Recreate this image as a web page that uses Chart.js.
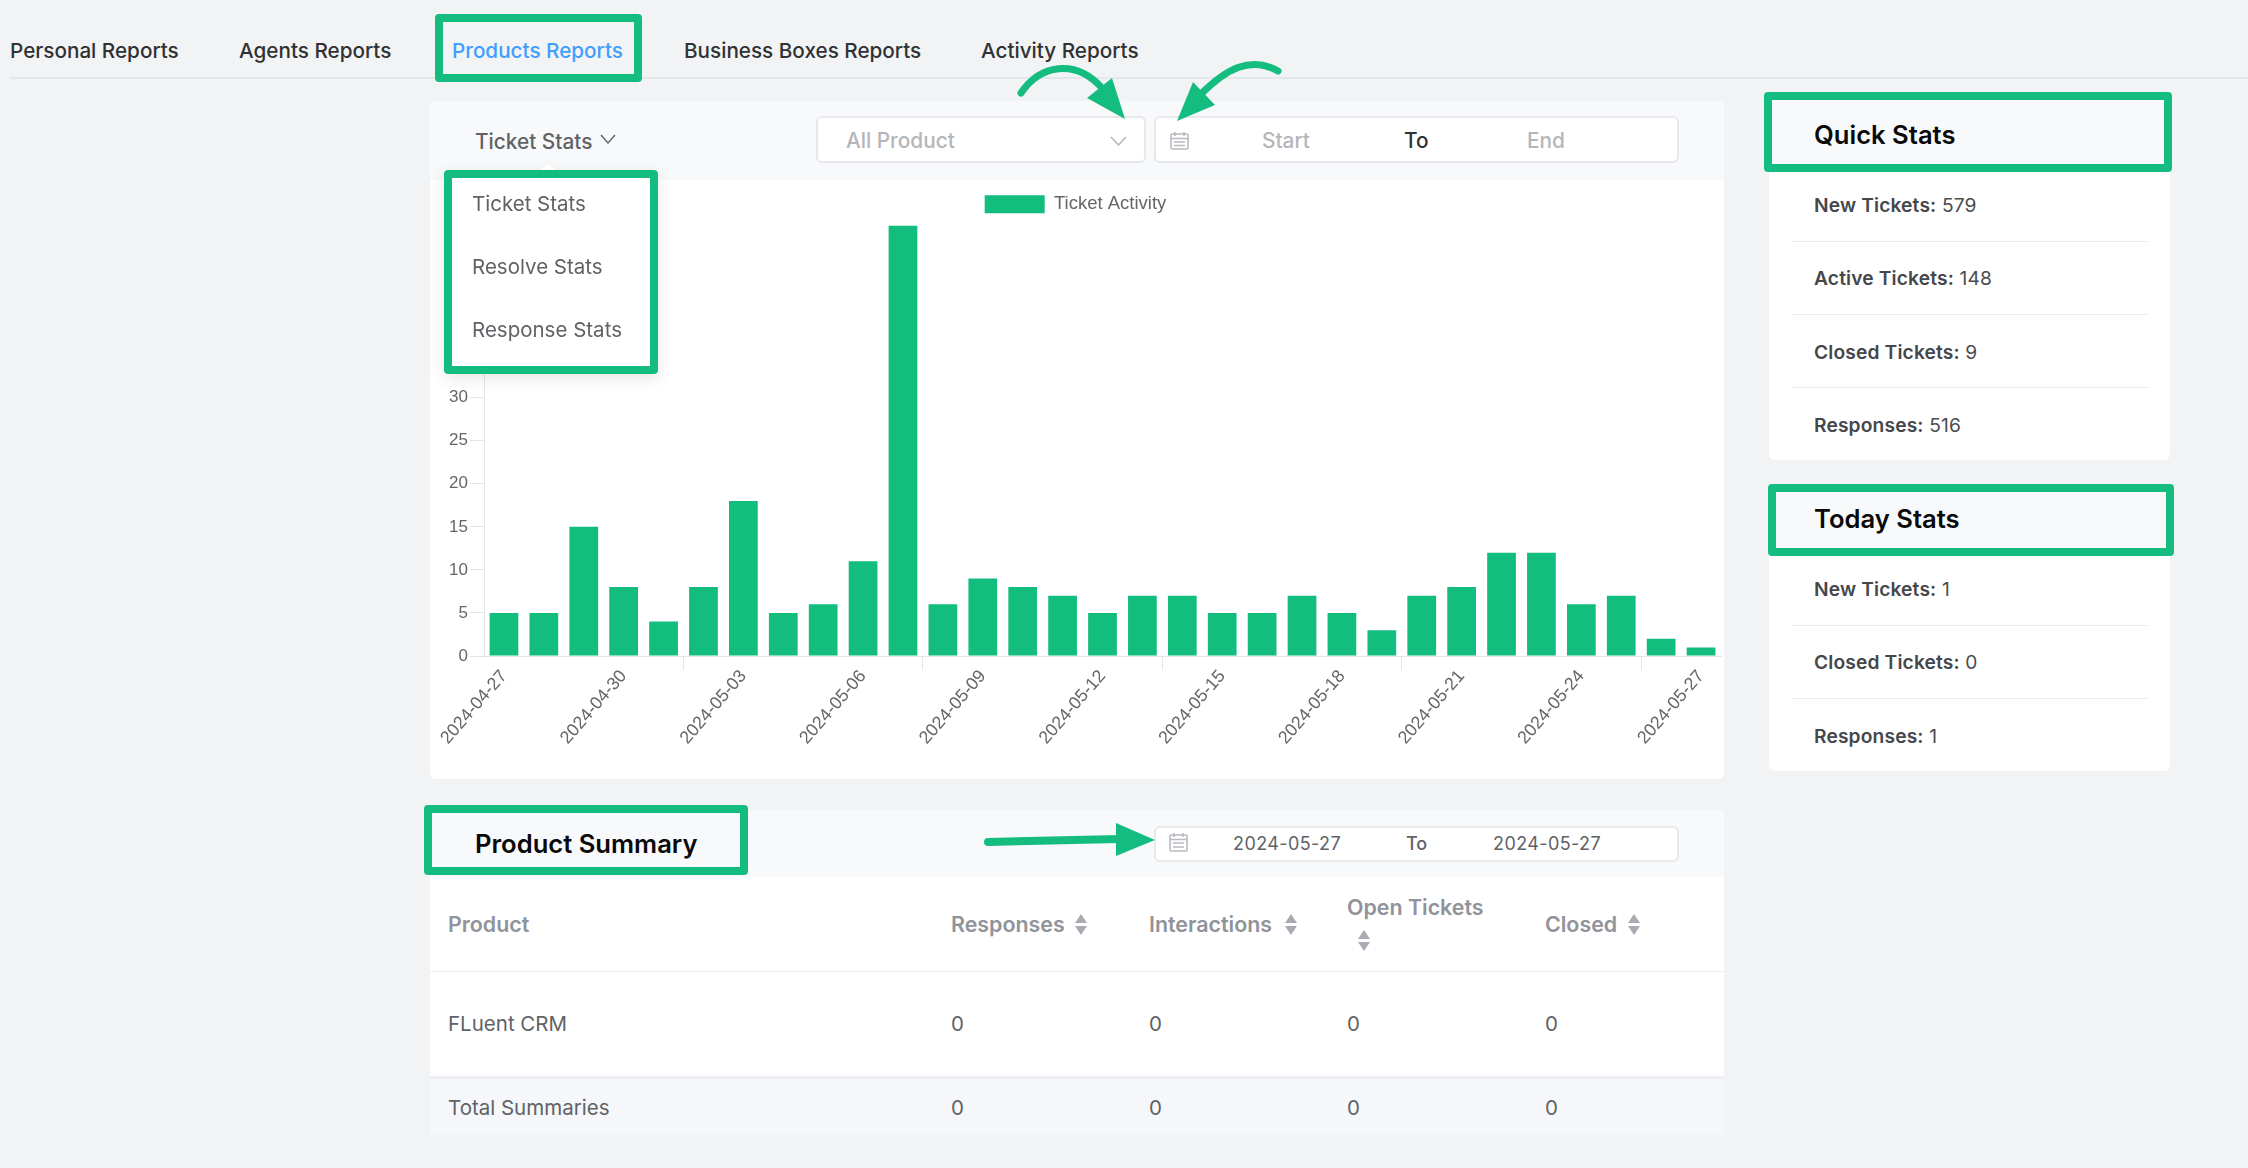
<!DOCTYPE html>
<html><head><meta charset="utf-8">
<script src="https://cdn.jsdelivr.net/npm/chart.js@4"></script>
<style>
html,body{margin:0;padding:0;width:2248px;height:1168px;overflow:hidden;background:#f1f3f5;font-family:Inter,sans-serif;color:#606266}
.a{position:absolute;white-space:nowrap}
.t{transform:translateY(-50%)}
.card{position:absolute;background:#fff;border-radius:6px}
.head{position:absolute;background:#f8f9fb}
.gb{position:absolute;border:8px solid #14bd7f;border-radius:4px;box-sizing:border-box}
.inp{position:absolute;background:#fff;border:2px solid #e6e8ec;border-radius:6px;box-sizing:border-box}
.tab{font-size:20.7px;font-weight:500;color:#303133;top:49.5px}
.pop{font-size:20.5px;color:#606266}
.st{font-size:19.2px;color:#4a4c50;font-weight:400;letter-spacing:.15px}
.st b{font-weight:600;color:#45474b}
.dv{position:absolute;height:1px;background:#e9ebee;left:1792px;width:356px}
.h2{font-size:25.6px;font-weight:600;color:#0a0a0a}
.th{font-size:21.4px;font-weight:600;color:#909399}
.td{font-size:20.5px;color:#606266}
svg{position:absolute;left:0;top:0;overflow:visible}
canvas{position:absolute;left:430px;top:180px}
</style></head><body>

<div class="a" style="left:10px;top:77px;width:2238px;height:2px;background:#e4e7ea"></div>
<div class="a t tab" style="left:10px">Personal Reports</div>
<div class="a t tab" style="left:239px">Agents Reports</div>
<div class="a t tab" style="left:452px;color:#409eff">Products Reports</div>
<div class="a t tab" style="left:684px">Business Boxes Reports</div>
<div class="a t tab" style="left:981px">Activity Reports</div>
<div class="gb" style="left:435px;top:14px;width:207px;height:68px"></div>

<!-- chart card -->
<div class="card" style="left:430px;top:101px;width:1294px;height:678px"></div>
<div class="head" style="left:430px;top:101px;width:1294px;height:79px;border-radius:6px 6px 0 0"></div>
<canvas id="c" width="1294" height="598"></canvas>
<div class="a t" style="left:475px;top:141px;font-size:20.8px;font-weight:500;color:#606266">Ticket Stats</div>
<div class="inp" style="left:816px;top:116px;width:330px;height:47px"></div>
<div class="a t" style="left:846px;top:140px;font-size:20.8px;font-weight:500;color:#b4b6ba">All Product</div>
<div class="inp" style="left:1154px;top:116px;width:525px;height:47px"></div>
<div class="a t" style="left:1262px;top:140px;font-size:20.8px;font-weight:500;color:#b4b6ba">Start</div>
<div class="a t" style="left:1404px;top:139.5px;font-size:20.8px;font-weight:500;color:#303133">To</div>
<div class="a t" style="left:1527px;top:140px;font-size:20.8px;font-weight:500;color:#b4b6ba">End</div>

<!-- popup -->
<div class="a" style="left:444px;top:170px;width:214px;height:204px;background:#fff;box-shadow:0 4px 16px rgba(0,0,0,.1)"></div>
<div class="gb" style="left:444px;top:170px;width:214px;height:204px"></div>
<div class="a t pop" style="left:472px;top:203px">Ticket Stats</div>
<div class="a t pop" style="left:472px;top:266px">Resolve Stats</div>
<div class="a t pop" style="left:472px;top:329px">Response Stats</div>

<!-- summary card -->
<div class="card" style="left:430px;top:810px;width:1294px;height:325px"></div>
<div class="head" style="left:430px;top:810px;width:1294px;height:67px"></div>
<div class="a" style="left:430px;top:1079px;width:1294px;height:56px;background:#f5f7fa"></div>
<div class="a" style="left:430px;top:971px;width:1294px;height:1px;background:#eceef1"></div>
<div class="a" style="left:430px;top:1076px;width:1294px;height:3px;background:#eceef1"></div>
<div class="gb" style="left:424px;top:805px;width:324px;height:70px"></div>
<div class="a t h2" style="left:475px;top:843px">Product Summary</div>
<div class="inp" style="left:1154px;top:826px;width:525px;height:36px"></div>
<div class="a t" style="left:1233px;top:843px;font-size:18px;color:#606266;letter-spacing:.4px">2024-05-27</div>
<div class="a t" style="left:1406px;top:843px;font-size:18px;font-weight:500;color:#606266">To</div>
<div class="a t" style="left:1493px;top:843px;font-size:18px;color:#606266;letter-spacing:.4px">2024-05-27</div>

<div class="a t th" style="left:448px;top:924px">Product</div>
<div class="a t th" style="left:951px;top:924px">Responses</div>
<div class="a t th" style="left:1149px;top:924px">Interactions</div>
<div class="a t th" style="left:1347px;top:907px">Open Tickets</div>
<div class="a t th" style="left:1545px;top:924px">Closed</div>
<div class="a t td" style="left:448px;top:1023px">FLuent CRM</div>
<div class="a t td" style="left:951px;top:1023px">0</div>
<div class="a t td" style="left:1149px;top:1023px">0</div>
<div class="a t td" style="left:1347px;top:1023px">0</div>
<div class="a t td" style="left:1545px;top:1023px">0</div>
<div class="a t td" style="left:448px;top:1107px">Total Summaries</div>
<div class="a t td" style="left:951px;top:1107px">0</div>
<div class="a t td" style="left:1149px;top:1107px">0</div>
<div class="a t td" style="left:1347px;top:1107px">0</div>
<div class="a t td" style="left:1545px;top:1107px">0</div>

<!-- side cards -->
<div class="card" style="left:1769px;top:110px;width:401px;height:350px"></div>
<div class="head" style="left:1769px;top:95px;width:401px;height:74px"></div>
<div class="gb" style="left:1764px;top:92px;width:408px;height:80px"></div>
<div class="a t h2" style="left:1814px;top:134px">Quick Stats</div>
<div class="a t st" style="left:1814px;top:205px"><b>New Tickets:</b> 579</div><div class="dv" style="top:241px"></div>
<div class="a t st" style="left:1814px;top:278px"><b>Active Tickets:</b> 148</div><div class="dv" style="top:314px"></div>
<div class="a t st" style="left:1814px;top:352px"><b>Closed Tickets:</b> 9</div><div class="dv" style="top:387px"></div>
<div class="a t st" style="left:1814px;top:425px"><b>Responses:</b> 516</div>

<div class="card" style="left:1769px;top:500px;width:401px;height:271px"></div>
<div class="head" style="left:1770px;top:486px;width:400px;height:67px"></div>
<div class="gb" style="left:1768px;top:484px;width:406px;height:72px"></div>
<div class="a t h2" style="left:1814px;top:518px">Today Stats</div>
<div class="a t st" style="left:1814px;top:589px"><b>New Tickets:</b> 1</div><div class="dv" style="top:625px"></div>
<div class="a t st" style="left:1814px;top:662px"><b>Closed Tickets:</b> 0</div><div class="dv" style="top:698px"></div>
<div class="a t st" style="left:1814px;top:736px"><b>Responses:</b> 1</div>

<svg width="2248" height="1168">
 <g fill="none" stroke="#14bd7f" stroke-width="7" stroke-linecap="round">
  <path d="M1021 93 C1040 65 1075 58 1102 88"/>
  <path d="M1278 71 C1250 55 1225 70 1201 94"/>
  <path d="M988 842 L1120 839" stroke-width="8"/>
 </g>
 <g fill="#14bd7f">
  <path d="M1125 119 L1112 78 L1087 98Z"/>
  <path d="M1177 121 L1193 82 L1215 105Z"/>
  <path d="M1155 840 L1116 823 L1116 856Z"/>
 </g>
 <path d="M541 170 L548 164 L555 170Z" fill="#fff"/>
 <g fill="none" stroke="#606266" stroke-width="1.4"><path d="M601 135 L608 143 L615 135"/></g>
 <g fill="none" stroke="#b4b6ba" stroke-width="1.5"><path d="M1111 137 L1118.5 145 L1126 137"/></g>
 <g fill="none" stroke="#b9bbbf" stroke-width="1.6">
  <rect x="1171" y="134" width="17" height="15" rx="1"/><path d="M1171 138.5 H1188 M1175 132 V136 M1184 132 V136 M1174 142 H1185 M1174 145.5 H1185" />
  <rect x="1170" y="835" width="17" height="16" rx="1"/><path d="M1170 839.5 H1187 M1174 833 V837 M1183 833 V837 M1173 843 H1184 M1173 847 H1184"/>
 </g>
 <g fill="#a8abb2">
  <path d="M1075 923 L1081 914 L1087 923Z M1075 926 L1081 935 L1087 926Z"/>
  <path d="M1285 923 L1291 914 L1297 923Z M1285 926 L1291 935 L1297 926Z"/>
  <path d="M1628 923 L1634 914 L1640 923Z M1628 926 L1634 935 L1640 926Z"/>
  <path d="M1358 939 L1364 930 L1370 939Z M1358 942 L1364 951 L1370 942Z"/>
 </g>
</svg>

<script>
const categories = ["2024-04-27","2024-04-28","2024-04-29","2024-04-30","2024-05-01","2024-05-02","2024-05-03","2024-05-04","2024-05-05","2024-05-06","2024-05-07","2024-05-08","2024-05-09","2024-05-10","2024-05-11","2024-05-12","2024-05-13","2024-05-14","2024-05-15","2024-05-16","2024-05-17","2024-05-18","2024-05-19","2024-05-20","2024-05-21","2024-05-22","2024-05-23","2024-05-24","2024-05-25","2024-05-26","2024-05-27"];
const ticketActivity = [5,5,15,8,4,8,18,5,6,11,50,6,9,8,7,5,7,7,5,5,7,5,3,7,8,12,12,6,7,2,1];
const seriesName = "Ticket Activity";

Chart.defaults.font.family = '"Liberation Sans", Arial, sans-serif';
Chart.defaults.font.size = 17;
Chart.defaults.color = "#666";
new Chart(document.getElementById("c"), {
  type: "bar",
  data: { labels: categories, datasets: [{ label: seriesName, data: ticketActivity, backgroundColor: "#12bd7e" }] },
  plugins: [{ id: "legendGap", beforeInit(chart) {
    const fit = chart.legend.fit;
    chart.legend.fit = function () { fit.call(this); this.height += 2; };
  } }],
  options: {
    responsive: false, animation: false,
    layout: { padding: { right: 3, top: 0 } },
    plugins: {
      tooltip: { enabled: false },
      legend: { position: "top", labels: { boxWidth: 60, boxHeight: 18, padding: 15, color: "#666", font: { size: 18.5 } } }
    },
    scales: {
      x: {
        grid: { drawOnChartArea: false, tickLength: 14, color: "rgba(0,0,0,0.1)" },
        border: { color: "rgba(0,0,0,0.1)" },
        ticks: { minRotation: 49, maxRotation: 49, autoSkip: true, maxTicksLimit: 11, padding: -4, font: { size: 17.8 } },
        afterFit(s) { s.height = 122; }
      },
      y: {
        min: 0, max: 50,
        grid: { drawOnChartArea: false, tickLength: 14, color: "rgba(0,0,0,0.1)" },
        border: { color: "rgba(0,0,0,0.1)" },
        ticks: { stepSize: 5, padding: 2 },
        afterFit(s) { s.width = 54; }
      }
    }
  }
});
</script>
</body></html>
